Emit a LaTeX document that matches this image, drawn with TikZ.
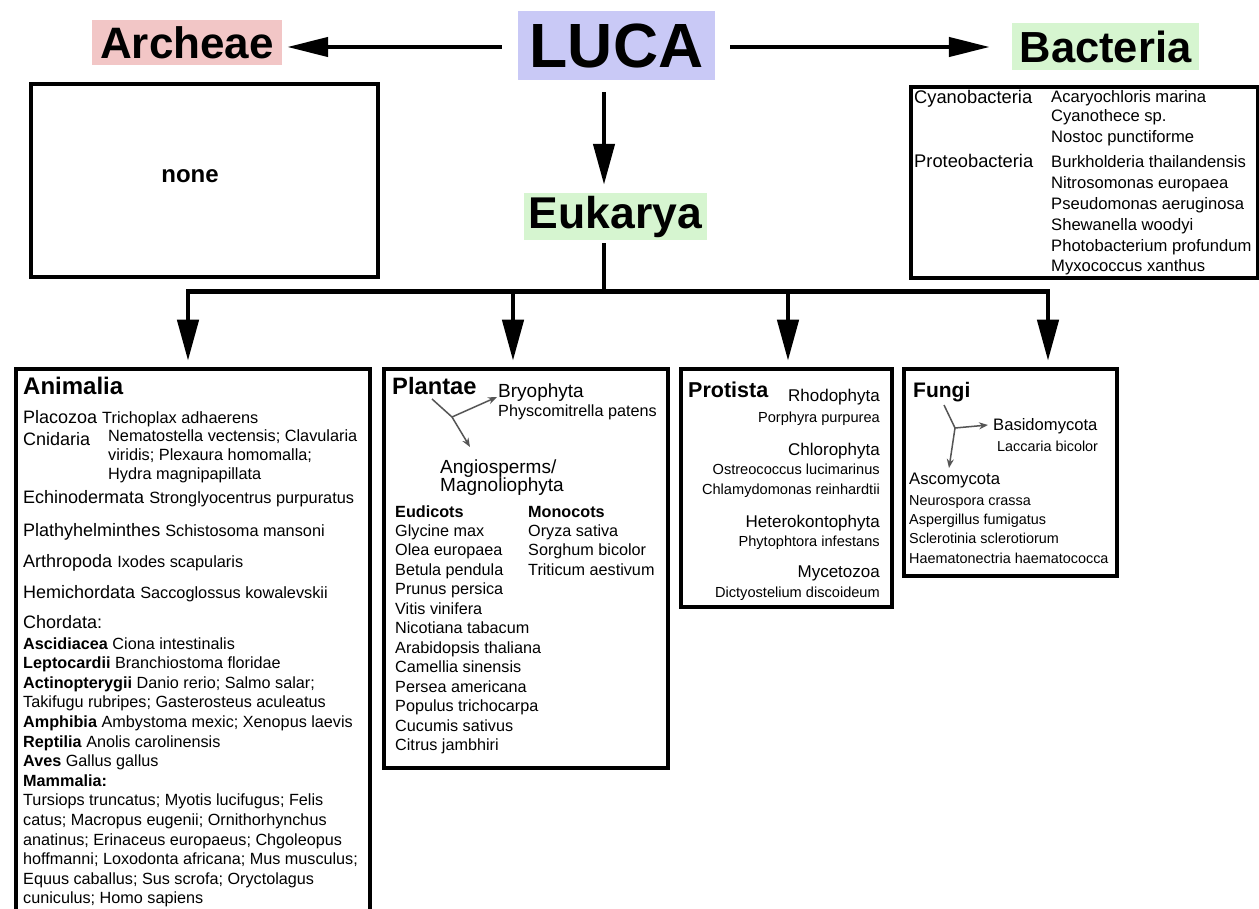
\documentclass[tikz,border=0pt]{standalone}
\usepackage{fontspec}
\setmainfont{Liberation Sans}
\usetikzlibrary{arrows.meta}
\definecolor{lucac}{RGB}{201,201,246}
\definecolor{archc}{RGB}{242,198,198}
\definecolor{greenc}{RGB}{214,245,208}
\definecolor{grayarr}{RGB}{85,85,85}
\newcommand{\myfs}[1]{\fontsize{#1}{#1}\selectfont}
\begin{document}
\begin{tikzpicture}[x=1pt,y=-1pt,
  boxn/.style={draw, line width=3.8pt, inner sep=0pt, anchor=north west},
  title/.style={inner sep=0pt, font=\bfseries},
  txt/.style={inner sep=0pt, anchor=base west},
  txr/.style={inner sep=0pt, anchor=base east},
  bigarr/.style={line width=4.5pt, -{Triangle[length=41pt,width=19pt]}},
  downarr/.style={line width=4.5pt, -{Triangle[length=41pt,width=21pt]}},
  thinarr/.style={draw=grayarr, fill=grayarr, line width=1.5pt, -{Stealth[length=9pt,width=7pt]}},
  thinln/.style={draw=grayarr, line width=1.5pt}]
\fill[white] (0,0) rectangle (1259,909);
\useasboundingbox (0,0) rectangle (1259,909);

% top labels
\node[title, fill=lucac, minimum width=197pt, minimum height=69pt] (luca) at (616.5,45.5) {\myfs{62.5}LUCA};
\node[title, fill=archc, minimum width=190pt, minimum height=45pt] (arch) at (187,42.5) {\myfs{44}Archeae};
\node[title, fill=greenc, minimum width=187pt, minimum height=47pt] (bact) at (1105.5,46.5) {\myfs{43.5}Bacteria};
\node[title, fill=greenc, minimum width=183pt, minimum height=47pt] (euk) at (615.5,216.5) {\myfs{44.5}Eukarya};

\draw[bigarr, shorten <=16pt, shorten >=5pt] ([yshift=-1.5pt]luca.west) -- ([yshift=-1.5pt]arch.east |- luca.west);
\draw[bigarr, shorten <=15pt, shorten >=22pt] ([yshift=-1.5pt]luca.east) -- ([yshift=-1.5pt]bact.west |- luca.east);
\draw[downarr, shorten <=12pt, shorten >=8pt] ([xshift=-12.5pt]luca.south) -- ([xshift=-11.5pt]euk.north);

% boxes
\node[boxn, minimum width=347.5pt, minimum height=193.5pt] (nonebox) at (28.75,81.75) {};
\node[boxn, minimum width=347.5pt, minimum height=191.5pt] (bactbox) at (908.75,84.75) {};
\node[boxn, minimum width=354.5pt, minimum height=600pt] (anbox) at (13.75,366.75) {};
\node[boxn, minimum width=284.5pt, minimum height=399.5pt] (plbox) at (381.75,366.75) {};
\node[boxn, minimum width=211.5pt, minimum height=238.5pt] (prbox) at (678.75,366.75) {};
\node[boxn, minimum width=213.5pt, minimum height=207.5pt] (fubox) at (901.75,366.75) {};

% Eukarya tree
\coordinate (bar) at (604,292);
\coordinate (b1) at (188,292);
\coordinate (b2) at (513,292);
\coordinate (b3) at (788,292);
\coordinate (b4) at (1048,292);
\draw[line width=4.5pt, shorten <=3pt] ([xshift=-11.5pt]euk.south) -- (bar);
\draw[line width=5pt] ([xshift=-2pt]b1) -- ([xshift=2pt]b4);
\draw[downarr, shorten >=6pt] (b1) -- (b1 |- anbox.north);
\draw[downarr, shorten >=6pt] (b2) -- (b2 |- plbox.north);
\draw[downarr, shorten >=6pt] (b3) -- (b3 |- prbox.north);
\draw[downarr, shorten >=6pt] (b4) -- (b4 |- fubox.north);

% none
\node[inner sep=0pt, anchor=base, font=\bfseries\myfs{24}] (none) at (190,183) {none};

% Bacteria box
\node[txt, font=\myfs{18.3}] (cyano) at (914,104) {Cyanobacteria};
\node[txt, font=\myfs{18.3}] (proteo) at (914,168) {Proteobacteria};
\foreach \t/\yy [count=\i] in {Acaryochloris marina/103, Cyanothece sp./122, Nostoc punctiforme/143,
  Burkholderia thailandensis/168, Nitrosomonas europaea/189, Pseudomonas aeruginosa/210,
  Shewanella woodyi/231, Photobacterium profundum/252, Myxococcus xanthus/272}
  \node[txt, font=\myfs{16.6}] (bs\i) at (1051,\yy) {\t};

% Animalia
\node[txt, font=\bfseries\myfs{24}] (an0) at (23,395) {Animalia};
\node[txt] (an1) at (23,424) {\myfs{18}Placozoa \myfs{16.3}Trichoplax adhaerens};
\node[txt, font=\myfs{18}] (an2) at (23,445) {Cnidaria};
\node[txt, font=\myfs{16.3}] (an2a) at (108,441) {Nematostella vectensis; Clavularia};
\node[txt, font=\myfs{16.3}] (an2b) at (108,460) {viridis; Plexaura homomalla;};
\node[txt, font=\myfs{16.3}] (an2c) at (108,479) {Hydra magnipapillata};
\node[txt] (an3) at (23,503) {\myfs{18}Echinodermata \myfs{16.3}Stronglyocentrus purpuratus};
\node[txt] (an4) at (23,536) {\myfs{18}Plathyhelminthes \myfs{16.3}Schistosoma mansoni};
\node[txt] (an5) at (23,567) {\myfs{18}Arthropoda \myfs{16.3}Ixodes scapularis};
\node[txt] (an6) at (23,598) {\myfs{18}Hemichordata \myfs{16.3}Saccoglossus kowalevskii};
\node[txt, font=\myfs{18}] (an7) at (23,628) {Chordata:};
\foreach \t [count=\i from 0] in {{\textbf{Ascidiacea} Ciona intestinalis},
  {\textbf{Leptocardii} Branchiostoma floridae},
  {\textbf{Actinopterygii} Danio rerio; Salmo salar;},
  {Takifugu rubripes; Gasterosteus aculeatus},
  {\textbf{Amphibia} Ambystoma mexic; Xenopus laevis},
  {\textbf{Reptilia} Anolis carolinensis},
  {\textbf{Aves} Gallus gallus},
  {\textbf{Mammalia:}},
  {Tursiops truncatus; Myotis lucifugus; Felis},
  {catus; Macropus eugenii; Ornithorhynchus},
  {anatinus; Erinaceus europaeus; Chgoleopus},
  {hoffmanni; Loxodonta africana; Mus musculus;},
  {Equus caballus; Sus scrofa; Oryctolagus},
  {cuniculus; Homo sapiens}}
  \node[txt, font=\myfs{16.2}] (ch\i) at (23,{649+19.6*\i}) {\t};

% Plantae
\node[txt, font=\bfseries\myfs{23.7}] (pl0) at (392,395) {Plantae};
\node[txt, font=\myfs{19}] (pl1) at (498,398) {Bryophyta};
\node[txt, font=\myfs{16.2}] (pl2) at (498,417) {Physcomitrella patens};
\node[txt, font=\myfs{19}] (pl3) at (440,473) {Angiosperms/};
\node[txt, font=\myfs{19}] (pl4) at (440,491) {Magnoliophyta};
\node[txt, font=\bfseries\myfs{16.2}] (eud) at (395,517) {Eudicots};
\node[txt, font=\bfseries\myfs{16.2}] (mon) at (528,517) {Monocots};
\foreach \t [count=\i from 0] in {Glycine max, Olea europaea, Betula pendula, Prunus persica,
  Vitis vinifera, Nicotiana tabacum, Arabidopsis thaliana, Camellia sinensis,
  Persea americana, Populus trichocarpa, Cucumis sativus, Citrus jambhiri}
  \node[txt, font=\myfs{16.2}] (eu\i) at (395,{536+19.5*\i}) {\t};
\foreach \t [count=\i from 0] in {Oryza sativa, Sorghum bicolor, Triticum aestivum}
  \node[txt, font=\myfs{16.2}] (mo\i) at (528,{536+19.5*\i}) {\t};
\coordinate (pa) at (432,399);
\coordinate (pb) at (452,417);
\coordinate (pbt) at (497,397);
\coordinate (pat) at (470,447);
\draw[thinln] (pa) -- (pb);
\draw[thinarr] (pb) -- (pbt);
\draw[thinarr] (pb) -- (pat);

% Protista
\node[txt, font=\bfseries\myfs{21.5}] (pr0) at (688,398) {Protista};
\node[txr, font=\myfs{17}] (pr1) at (880,402) {Rhodophyta};
\node[txr, font=\myfs{14.6}] (pr2) at (880,422) {Porphyra purpurea};
\node[txr, font=\myfs{17}] (pr3) at (880,455) {Chlorophyta};
\node[txr, font=\myfs{14.6}] (pr4) at (880,474) {Ostreococcus lucimarinus};
\node[txr, font=\myfs{14.6}] (pr5) at (880,494) {Chlamydomonas reinhardtii};
\node[txr, font=\myfs{17}] (pr6) at (880,527) {Heterokontophyta};
\node[txr, font=\myfs{14.6}] (pr7) at (880,546) {Phytophtora infestans};
\node[txr, font=\myfs{17}] (pr8) at (880,577) {Mycetozoa};
\node[txr, font=\myfs{14.6}] (pr9) at (880,597) {Dictyostelium discoideum};

% Fungi
\node[txt, font=\bfseries\myfs{21}] (fu0) at (913,397) {Fungi};
\node[txt, font=\myfs{16.6}] (fu1) at (993,430) {Basidomycota};
\node[txt, font=\myfs{14.4}] (fu2) at (997,451) {Laccaria bicolor};
\node[txt, font=\myfs{16.7}] (fu3) at (909,484) {Ascomycota};
\foreach \t [count=\i from 0] in {Neurospora crassa, Aspergillus fumigatus, Sclerotinia sclerotiorum, Haematonectria haematococca}
  \node[txt, font=\myfs{14.4}] (fs\i) at (909,{505+19.4*\i}) {\t};
\coordinate (fa) at (944,405);
\coordinate (fb) at (955,428);
\coordinate (fbt) at (988,425);
\coordinate (fat) at (949,468);
\draw[thinln] (fa) -- (fb);
\draw[thinarr] (fb) -- (fbt);
\draw[thinarr] (fb) -- (fat);
\end{tikzpicture}
\end{document}
